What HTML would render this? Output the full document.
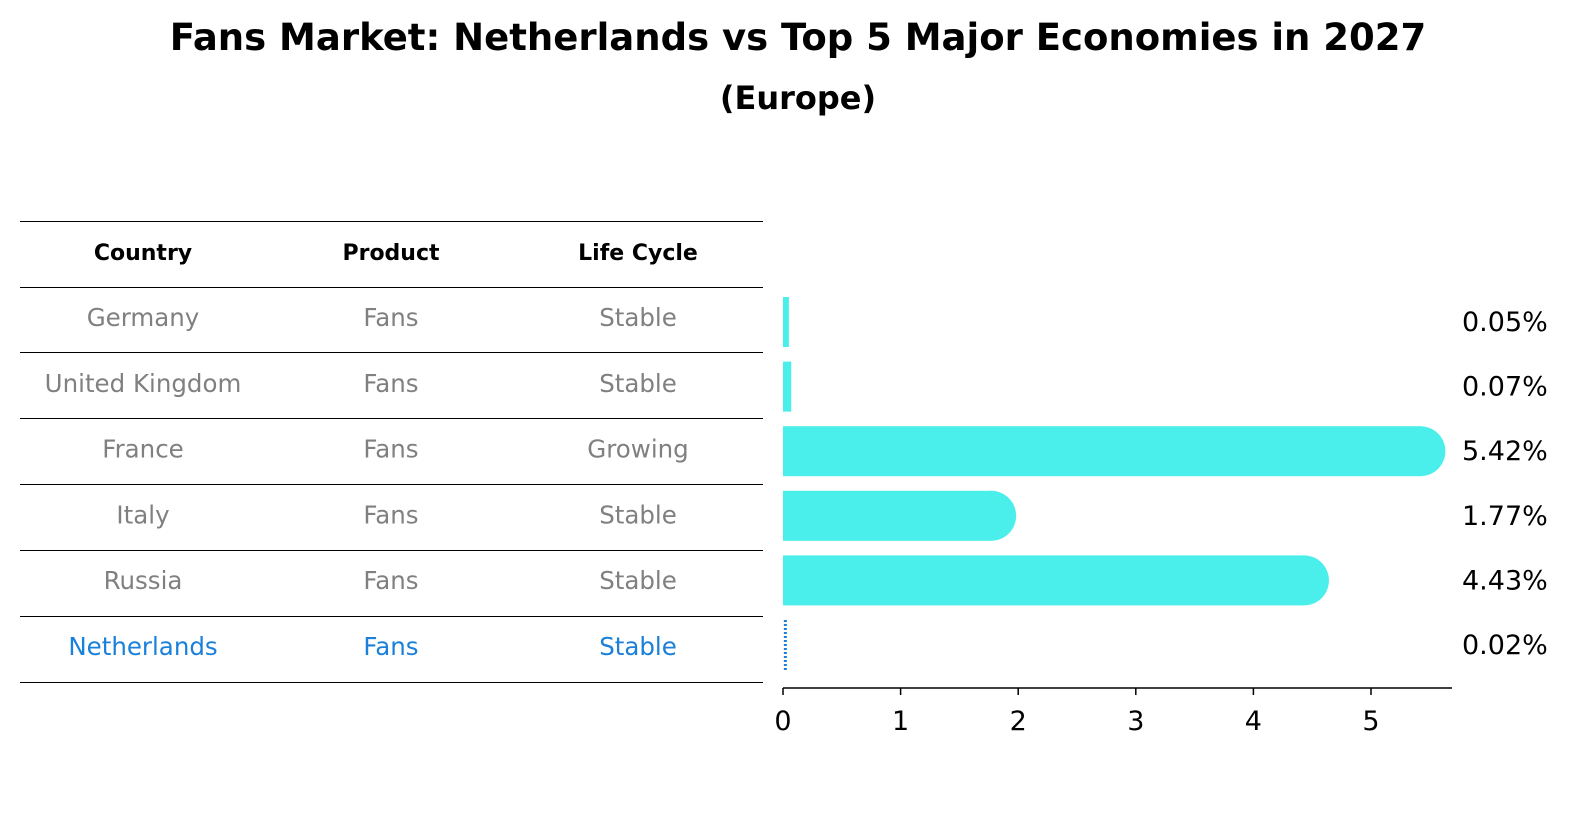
<!DOCTYPE html>
<html><head><meta charset="utf-8"><style>
html,body{margin:0;padding:0;background:#fff;overflow:hidden;width:1586px;height:823px}
svg{display:block}
</style></head><body>
<svg width="1586" height="823" xmlns="http://www.w3.org/2000/svg" font-family="'DejaVu Sans', 'Liberation Sans', sans-serif">
<text x="798" y="50" text-anchor="middle" font-size="37" font-weight="bold">Fans Market: Netherlands vs Top 5 Major Economies in 2027</text>
<text x="798" y="109" text-anchor="middle" font-size="32" font-weight="bold">(Europe)</text>
<g id="table"></g>
<g id="bars"></g>
</svg>
<script>
const countries=["Germany","United Kingdom","France","Italy","Russia","Netherlands"];
const products=["Fans","Fans","Fans","Fans","Fans","Fans"];
const lifeCycles=["Stable","Stable","Growing","Stable","Stable","Stable"];
const values=[0.05,0.07,5.42,1.77,4.43,0.02];
const tickValues=[0,1,2,3,4,5];
const NS="http://www.w3.org/2000/svg";
function mk(t,a,p){const e=document.createElementNS(NS,t);for(const k in a)e.setAttribute(k,a[k]);p.appendChild(e);return e;}
const tbl=document.getElementById('table');
const lineYs=[221,287,352,418,484,550,616,682];
lineYs.forEach(y=>{const l=mk('line',{x1:20,x2:763,y1:y+0.5,y2:y+0.5,stroke:'#000','stroke-width':1,'shape-rendering':'crispEdges'},tbl);

});
const colX=[143,391,638];
["Country","Product","Life Cycle"].forEach((h,i)=>{const t=mk('text',{x:colX[i],y:260,'text-anchor':'middle','font-size':22,'font-weight':'bold'},tbl);t.textContent=h;

});
countries.forEach((c,i)=>{const col=i===countries.length-1?'#1a80d9':'#808080';
[c,products[i],lifeCycles[i]].forEach((v,j)=>{const t=mk('text',{x:colX[j],y:326+i*65.8,'text-anchor':'middle','font-size':24.5,fill:col},tbl);t.textContent=v;

});});
const g=document.getElementById('bars');
const x0=783,ppu=117.6;const xs=v=>x0+v*ppu;
const yc=i=>322+i*64.6;
values.forEach((v,i)=>{
 if(i===values.length-1){const l=mk('line',{x1:xs(v),x2:xs(v),y1:yc(i)-25,y2:yc(i)+25,stroke:'#1a80d9','stroke-width':3,'stroke-dasharray':'2,2'},g);
 
 }
 else{const r=mk('rect',{x:x0,y:yc(i)-25,width:xs(v)-x0,height:50,fill:'#4aeeea'},g);
 
 
 if(v>0.5){const c=mk('circle',{cx:xs(v),cy:yc(i),r:25,fill:'#4aeeea'},g);
 
 }}
 const t=mk('text',{x:1462,y:yc(i)+9,'font-size':27},g);t.textContent=v.toFixed(2)+'%';
 
 
});
const ax=mk('line',{x1:x0,x2:1452,y1:688,y2:688,stroke:'#000','stroke-width':1.5},g);


tickValues.forEach(v=>{const tk=mk('line',{x1:xs(v),x2:xs(v),y1:688,y2:695,stroke:'#000','stroke-width':1.5},g);


const t=mk('text',{x:xs(v),y:730,'text-anchor':'middle','font-size':27},g);t.textContent=v;

});
</script>
</body></html>
